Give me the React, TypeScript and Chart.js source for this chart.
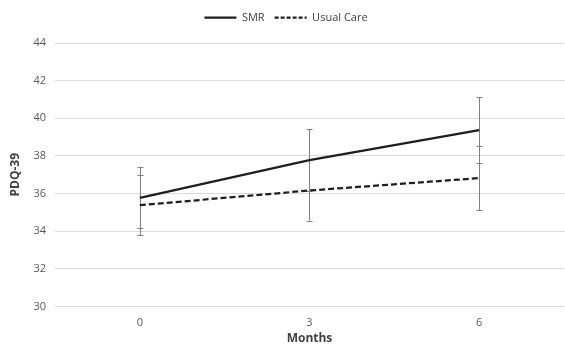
import React, { useEffect, useRef } from "react";
import { Chart, registerables } from "chart.js";

Chart.register(...registerables);

const months = ["0", "3", "6"];
const smrMean = [35.77, 37.77, 39.37];
const smrErr = [1.62, 1.65, 1.76];
const ucMean = [35.38, 36.16, 36.82];
const ucErr = [1.6, 1.6, 1.7];
const yTicks = [30, 32, 34, 36, 38, 40, 42, 44];

const errors = [smrErr, ucErr];

const errorBarPlugin = {
  id: "errorBars",
  beforeDatasetsDraw(chart: any) {
    const ctx = chart.ctx;
    const xs = chart.scales.x;
    const ys = chart.scales.y;
    ctx.save();
    ctx.strokeStyle = "#7f7f7f";
    ctx.lineWidth = 1;
    chart.data.datasets.forEach((ds: any, di: number) => {
      ds.data.forEach((v: number, i: number) => {
        const e = errors[di][i];
        const x = Math.round(xs.getPixelForValue(i)) + 0.5;
        const y1 = ys.getPixelForValue(v + e);
        const y2 = ys.getPixelForValue(v - e);
        ctx.beginPath();
        ctx.moveTo(x, y1);
        ctx.lineTo(x, y2);
        ctx.moveTo(x - 3, Math.round(y1) + 0.5);
        ctx.lineTo(x + 3, Math.round(y1) + 0.5);
        ctx.moveTo(x - 3, Math.round(y2) + 0.5);
        ctx.lineTo(x + 3, Math.round(y2) + 0.5);
        ctx.stroke();
      });
    });
    ctx.restore();
  },
};

const legendMarginPlugin = {
  id: "legendMargin",
  beforeUpdate(chart: any) {
    const lg = chart.legend;
    if (lg && !lg._marginPatched) {
      const orig = lg.fit;
      lg.fit = function () {
        orig.call(this);
        this.height += 10;
      };
      lg._marginPatched = true;
    }
  },
};

export default function App() {
  const ref = useRef<HTMLCanvasElement>(null);
  useEffect(() => {
    const fontFamily = "'Open Sans', 'Noto Sans', sans-serif";
    const chart = new Chart(ref.current!, {
      type: "line",
      data: {
        labels: months,
        datasets: [
          {
            label: "SMR",
            data: smrMean,
            borderColor: "#1e1e1e",
            backgroundColor: "#1e1e1e",
            borderWidth: 2.25,
            pointRadius: 0,
            tension: 0,
          },
          {
            label: "Usual Care",
            data: ucMean,
            borderColor: "#1e1e1e",
            backgroundColor: "#1e1e1e",
            borderWidth: 2.25,
            borderDash: [6, 3],
            pointRadius: 0,
            tension: 0,
          },
        ],
      },
      options: {
        animation: false,
        responsive: true,
        maintainAspectRatio: false,
        layout: { padding: { left: 8, right: 1, top: 2, bottom: 2 } },
        plugins: {
          legend: {
            position: "top",
            labels: {
              usePointStyle: true,
              pointStyle: "line",
              pointStyleWidth: 32,
              color: "#404040",
              font: { family: fontFamily, size: 11 },
              padding: 10,
              generateLabels: (chart: any) => {
                const items = Chart.defaults.plugins.legend.labels.generateLabels(chart);
                return items.map((it: any) => ({
                  ...it,
                  lineDash: it.datasetIndex === 1 ? [4, 2] : [],
                  lineWidth: 2.25,
                  strokeStyle: "#1e1e1e",
                }));
              },
            },
          },
          tooltip: { enabled: false },
        },
        scales: {
          x: {
            offset: true,
            grid: { display: false },
            border: { display: false },
            ticks: { color: "#595959", font: { family: fontFamily, size: 11 }, padding: 2 },
            title: {
              display: true,
              text: "Months",
              color: "#404040",
              font: { family: fontFamily, size: 12, weight: "bold" },
              padding: { top: 0, bottom: 0 },
            },
          },
          y: {
            min: 30,
            max: 44,
            afterBuildTicks: (axis: any) => {
              axis.ticks = yTicks.map((v) => ({ value: v }));
            },
            grid: { color: "#d9d9d9", drawTicks: false },
            border: { display: false },
            ticks: { color: "#595959", font: { family: fontFamily, size: 11 }, padding: 9 },
            title: {
              display: true,
              text: "PDQ-39",
              color: "#404040",
              font: { family: fontFamily, size: 12, weight: "bold" },
              padding: { top: 0, bottom: 2 },
            },
          },
        },
      },
      plugins: [errorBarPlugin, legendMarginPlugin],
    });
    return () => chart.destroy();
  }, []);
  return (
    <div style={{ position: "fixed", left: 0, top: 0, width: 565, height: 348, background: "#fff" }}>
      <canvas ref={ref} />
    </div>
  );
}
